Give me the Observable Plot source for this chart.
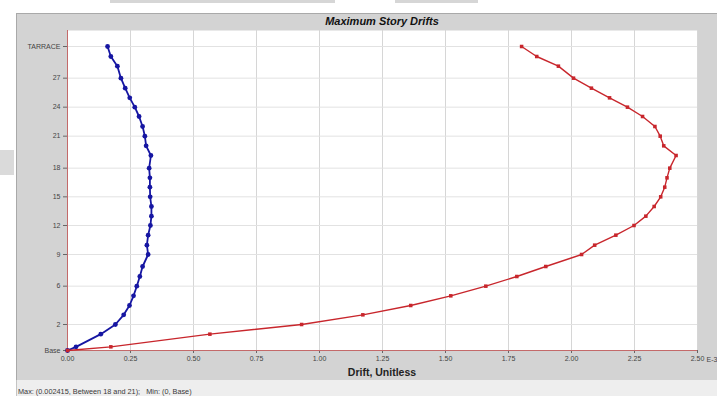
<!DOCTYPE html>
<html>
<head>
<meta charset="utf-8">
<script src="https://cdn.jsdelivr.net/npm/d3@7"></script>
<script src="https://cdn.jsdelivr.net/npm/@observablehq/plot@0.6"></script>
<style>
  html, body { margin: 0; padding: 0; background: #fff; }
  #wrap { position: relative; width: 717px; height: 396px; overflow: hidden; font-family: "Liberation Sans", Arial, sans-serif; }
  .deco { position: absolute; background: #d6d6d6; }
  #panel { position: absolute; left: 16px; top: 13px; width: 701px; height: 367px; background: #d3d3d3; border-top: 1px solid #a9a9a9; border-left: 1px solid #a9a9a9; box-sizing: border-box; }
  #status { position: absolute; left: 16px; top: 380px; width: 701px; height: 16px; background: #eeeeee; border-left: 1px solid #c4c4c4; box-sizing: border-box; }
  #statustext { position: absolute; left: 18px; top: 387px; font-size: 7.3px; color: #3a3a3a; white-space: pre; }
  #title { position: absolute; left: 67px; width: 630px; top: 15px; text-align: center; font-size: 11px; font-weight: bold; font-style: italic; color: #111; }
  #xlabel { position: absolute; left: 67px; width: 630px; top: 366px; text-align: center; font-size: 10.5px; font-weight: bold; color: #222; }
  #chart { position: absolute; left: 0; top: 0; }
</style>
</head>
<body>
<div id="wrap">
  <div class="deco" style="left:110px;top:0;width:225px;height:3px;"></div>
  <div class="deco" style="left:395px;top:0;width:83px;height:3px;"></div>
  <div class="deco" style="left:0;top:150px;width:14px;height:25px;background:#dadada;"></div>
  <div id="panel"></div>
  <div id="status"></div>
  <div id="statustext">Max: (0.002415, Between 18 and 21);   Min: (0, Base)</div>
  <div id="title">Maximum Story Drifts</div>
  <div id="xlabel">Drift, Unitless</div>
  <div id="chart"></div>
</div>
<script>
// Story levels (bottom to top) and their elevations (m)
const storyNames = ["Base","Plinth","1","2","3","4","5","6","7","8","9","10","11","12","13","14","15","16","17","18","19","20","21","22","23","24","25","26","27","28","29","TARRACE"];
const storyElev  = [0, 1.1, 4.9, 7.8, 10.7, 13.5, 16.4, 19.3, 22.2, 25.2, 28.8, 31.6, 34.6, 37.5, 40.3, 43.2, 46.1, 49.0, 51.8, 54.7, 58.5, 61.4, 64.3, 67.2, 70.2, 73.0, 75.8, 78.7, 81.7, 85.3, 88.2, 91.2];

// Drift values, in units of 1E-3
const driftBlue = [0, 0.034, 0.132, 0.190, 0.223, 0.246, 0.262, 0.275, 0.287, 0.298, 0.320, 0.315, 0.320, 0.329, 0.333, 0.333, 0.328, 0.327, 0.327, 0.324, 0.331, 0.312, 0.307, 0.298, 0.284, 0.267, 0.247, 0.229, 0.212, 0.198, 0.172, 0.159];
const driftRed  = [0, 0.172, 0.565, 0.929, 1.172, 1.362, 1.521, 1.660, 1.783, 1.898, 2.040, 2.092, 2.176, 2.248, 2.295, 2.328, 2.354, 2.370, 2.379, 2.390, 2.415, 2.366, 2.352, 2.331, 2.282, 2.222, 2.151, 2.079, 2.008, 1.948, 1.862, 1.802];

// Axis ticks
const yTickLabels = ["Base","2","6","9","12","15","18","21","24","27","TARRACE"];
const xTicks = [0, 0.25, 0.5, 0.75, 1.0, 1.25, 1.5, 1.75, 2.0, 2.25, 2.5];
const xUnit = "E-3";

const elevOf = new Map(storyNames.map((n, i) => [n, storyElev[i]]));
const yTicks = yTickLabels.map(n => elevOf.get(n));
const labelOf = new Map(yTickLabels.map((n, i) => [yTicks[i], n]));

const blue = storyNames.map((n, i) => ({story: n, elev: storyElev[i], drift: driftBlue[i]}));
const red  = storyNames.map((n, i) => ({story: n, elev: storyElev[i], drift: driftRed[i]}));

const axisColor = "#c46a6a";
const blueColor = "#1616a2";
const redColor = "#c8262c";

const chart = Plot.plot({
  width: 717,
  height: 396,
  marginLeft: 67,
  marginRight: 20,
  marginTop: 30,
  marginBottom: 46,
  style: {background: "transparent", fontFamily: "Liberation Sans, Arial, sans-serif", fontSize: "7px", color: "#444"},
  x: {domain: [0, 2.5], label: null},
  y: {domain: [0, 96], label: null},
  marks: [
    Plot.frame({fill: "white", stroke: null}),
    Plot.gridX(xTicks.slice(1), {stroke: "#d6d6d6", strokeOpacity: 1}),
    Plot.gridY(yTicks.slice(1), {stroke: "#e2e2e2", strokeOpacity: 1}),
    Plot.axisX(xTicks, {tickSize: 3, tickPadding: 3, stroke: "#666", tickFormat: d => d.toFixed(2)}),
    Plot.axisY(yTicks, {tickSize: 4, tickPadding: 3, stroke: "#666", tickFormat: d => labelOf.get(d)}),
    Plot.text([xUnit], {x: 2.5, y: 0, text: d => d, dx: 9, dy: 9.5, textAnchor: "start", fill: "#444"}),
    Plot.ruleX([0], {stroke: axisColor, strokeWidth: 1}),
    Plot.ruleY([0], {stroke: axisColor, strokeWidth: 1.2}),
    Plot.line(blue, {x: "drift", y: "elev", stroke: blueColor, strokeWidth: 1.8}),
    Plot.dot(blue, {x: "drift", y: "elev", r: 2.4, fill: blueColor, stroke: null}),
    Plot.line(red, {x: "drift", y: "elev", stroke: redColor, strokeWidth: 1.4}),
    Plot.dot(red, {x: "drift", y: "elev", symbol: "square", r: 2, fill: redColor, stroke: null})
  ]
});
document.getElementById("chart").appendChild(chart);
</script>
</body>
</html>
